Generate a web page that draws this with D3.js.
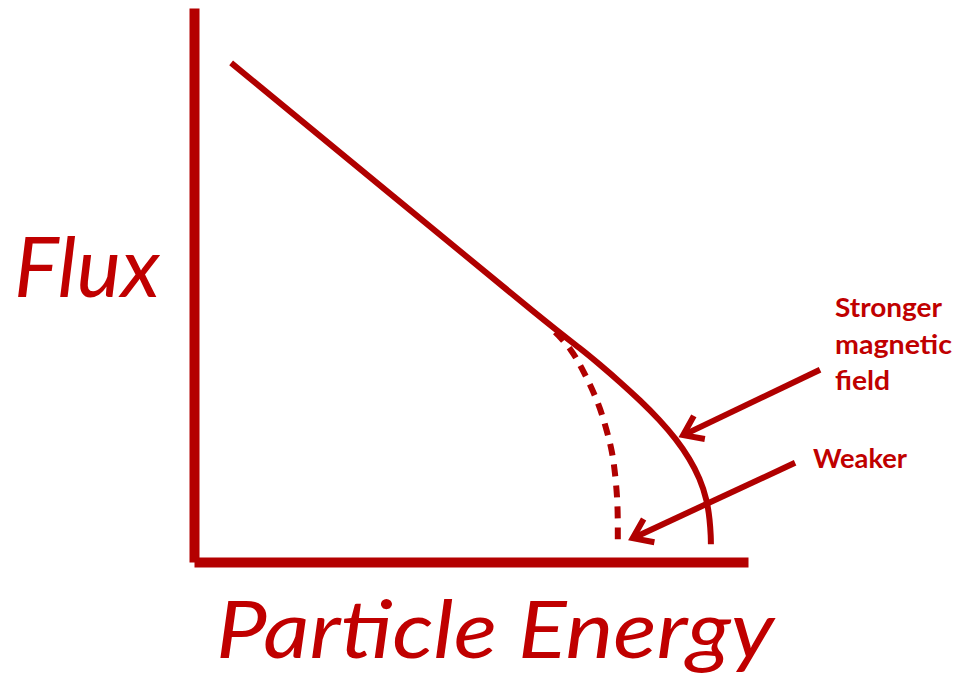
<!DOCTYPE html>
<html>
<head>
<meta charset="utf-8">
<script src="https://cdn.jsdelivr.net/npm/d3@7"></script>
<style>
  html, body { margin: 0; padding: 0; background: #ffffff; }
  svg { display: block; }
</style>
</head>
<body>
<svg id="chart" width="961" height="678"></svg>
<script>
// ---------- data (arbitrary units, schematic) ----------
const strongerEnergy = [6.7, 36.0, 65.2, 69.7, 73.3, 76.9, 80.5, 84.1, 87.0, 89.5, 91.3, 92.6, 93.1, 93.3, 93.3];
const strongerFlux   = [90.1, 66.0, 41.9, 38.6, 35.6, 32.5, 29.2, 25.6, 22.2, 18.6, 15.1, 11.2, 7.6, 4.5, 3.2];
const weakerEnergy   = [65.2, 68.2, 70.0, 71.8, 73.3, 74.5, 75.5, 76.0, 76.4, 76.5, 76.5, 76.5];
const weakerFlux     = [41.5, 38.3, 35.0, 31.4, 27.8, 23.8, 19.9, 16.1, 11.7, 8.1, 4.6, 3.4];

const xTitle = "Particle Energy";
const yTitle = "Flux";
const strongerLabel = ["Stronger", "magnetic", "field"];
const weakerLabel = ["Weaker"];
// annotation arrows: [tailEnergy, tailFlux, tipEnergy, tipFlux]
const strongerArrow = [113.0, 34.7, 88.3, 22.9];
const weakerArrow   = [108.5, 17.9, 79.2, 4.3];

// ---------- layout ----------
const svg = d3.select("#chart");
const x = d3.scaleLinear().domain([0, 100]).range([194, 748]);
const y = d3.scaleLinear().domain([0, 100]).range([562, 8]);

const axisColor = "#b40000";
const lineColor = "#b00000";
const textColor = "#c00000";

// axes (no ticks, thick domain lines)
const gx = svg.append("g").attr("transform", `translate(0,${y(0)})`)
  .call(d3.axisBottom(x).ticks(0).tickSize(0).tickSizeOuter(0).tickFormat(""));
const gy = svg.append("g").attr("transform", `translate(${x(0)},0)`)
  .call(d3.axisLeft(y).ticks(0).tickSize(0).tickSizeOuter(0).tickFormat(""));
[gx, gy].forEach(g => g.select(".domain")
  .attr("stroke", axisColor).attr("stroke-width", 10).attr("stroke-linecap", "butt"));

const line = d3.line().x(d => x(d[0])).y(d => y(d[1])).curve(d3.curveBasis);

const stronger = strongerEnergy.map((e, i) => [e, strongerFlux[i]]);
const weaker = weakerEnergy.map((e, i) => [e, weakerFlux[i]]);

svg.append("path").datum(weaker)
  .attr("d", line).attr("fill", "none")
  .attr("stroke", lineColor).attr("stroke-width", 6)
  .attr("stroke-dasharray", "12,9");

svg.append("path").datum(stronger)
  .attr("d", line).attr("fill", "none")
  .attr("stroke", lineColor).attr("stroke-width", 6);

// arrows
function arrow(a) {
  const x1 = x(a[0]), y1 = y(a[1]), x2 = x(a[2]), y2 = y(a[3]);
  const ang = Math.atan2(y1 - y2, x1 - x2);
  const L = 22, h = 0.62;
  const b1 = [x2 + L * Math.cos(ang + h), y2 + L * Math.sin(ang + h)];
  const b2 = [x2 + L * Math.cos(ang - h), y2 + L * Math.sin(ang - h)];
  const g = svg.append("g").attr("stroke", lineColor).attr("fill", "none");
  g.append("line").attr("x1", x1).attr("y1", y1).attr("x2", x2 + 3 * Math.cos(ang)).attr("y2", y2 + 3 * Math.sin(ang))
    .attr("stroke-width", 6);
  g.append("path").attr("d", `M${b1[0]},${b1[1]}L${x2},${y2}L${b2[0]},${b2[1]}`)
    .attr("stroke-width", 6).attr("stroke-linejoin", "miter").attr("stroke-miterlimit", 10);
}
arrow(strongerArrow);
arrow(weakerArrow);

// labels
const lab = svg.append("g").attr("fill", textColor)
  .attr("font-family", "Lato, 'Open Sans', sans-serif").attr("font-weight", "bold").attr("font-size", 26);
const sWidths = [107, 117, 55];
strongerLabel.forEach((t, i) => {
  lab.append("text").attr("x", 835).attr("y", 317 + i * 36.5).text(t)
    .attr("textLength", sWidths[i]).attr("lengthAdjust", "spacingAndGlyphs");
});
lab.append("text").attr("x", 813).attr("y", 468).text(weakerLabel[0])
  .attr("textLength", 94).attr("lengthAdjust", "spacingAndGlyphs");

// axis titles
svg.append("text").attr("x", 14).attr("y", 297).text(yTitle)
  .attr("fill", textColor).attr("font-family", "Lato, 'Open Sans', sans-serif")
  .attr("font-style", "italic").attr("font-size", 83)
  .attr("textLength", 146).attr("lengthAdjust", "spacingAndGlyphs");

svg.append("text").attr("x", 216).attr("y", 658).text(xTitle)
  .attr("fill", textColor).attr("font-family", "Lato, 'Open Sans', sans-serif")
  .attr("font-style", "italic").attr("font-size", 79)
  .attr("textLength", 558).attr("lengthAdjust", "spacingAndGlyphs");
</script>
</body>
</html>
